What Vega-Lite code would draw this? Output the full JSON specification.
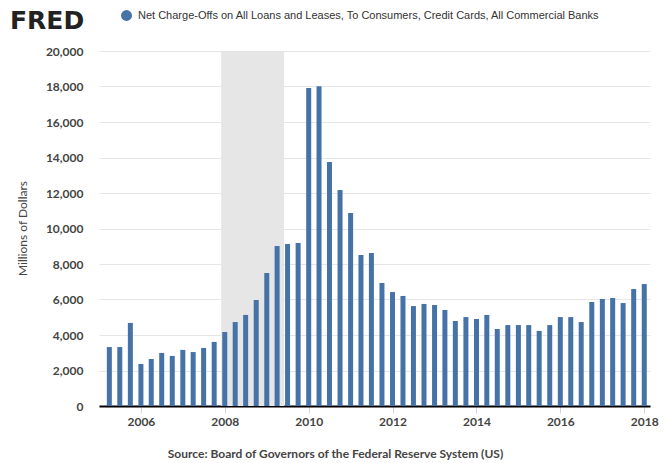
{
  "$schema": "https://vega.github.io/schema/vega-lite/v6.json",
  "width": 551,
  "height": 355,
  "autosize": {"type": "none"},
  "padding": {"left": 99, "top": 51, "right": 20, "bottom": 57},
  "background": "white",
  "title": {
    "text": "FRED",
    "anchor": "start",
    "frame": "group",
    "font": "DejaVu Sans",
    "fontSize": 25,
    "fontWeight": "bold",
    "color": "#222222",
    "dx": -89,
    "offset": 0,
    "dy": 44,
    "baseline": "alphabetic"
  },
  "config": {
    "view": {"stroke": null},
    "axis": {
      "labelFont": "Lato",
      "labelFontWeight": "bold",
      "labelFontSize": 12,
      "labelColor": "#444444",
      "titleFont": "Lato",
      "titleColor": "#444444"
    }
  },
  "datasets": {
    "recession": [{"start": "2007-12-01", "end": "2009-06-01"}],
    "series": [
      {"date": "2005-04-01", "value": 3320},
      {"date": "2005-07-01", "value": 3320},
      {"date": "2005-10-01", "value": 4680},
      {"date": "2006-01-01", "value": 2370},
      {"date": "2006-04-01", "value": 2650},
      {"date": "2006-07-01", "value": 2990},
      {"date": "2006-10-01", "value": 2820},
      {"date": "2007-01-01", "value": 3160},
      {"date": "2007-04-01", "value": 3040},
      {"date": "2007-07-01", "value": 3270},
      {"date": "2007-10-01", "value": 3610},
      {"date": "2008-01-01", "value": 4170},
      {"date": "2008-04-01", "value": 4730},
      {"date": "2008-07-01", "value": 5130},
      {"date": "2008-10-01", "value": 5970},
      {"date": "2009-01-01", "value": 7490},
      {"date": "2009-04-01", "value": 9010},
      {"date": "2009-07-01", "value": 9130},
      {"date": "2009-10-01", "value": 9180},
      {"date": "2010-01-01", "value": 17920},
      {"date": "2010-04-01", "value": 18010},
      {"date": "2010-07-01", "value": 13750},
      {"date": "2010-10-01", "value": 12170},
      {"date": "2011-01-01", "value": 10870},
      {"date": "2011-04-01", "value": 8510},
      {"date": "2011-07-01", "value": 8620},
      {"date": "2011-10-01", "value": 6930},
      {"date": "2012-01-01", "value": 6420},
      {"date": "2012-04-01", "value": 6200},
      {"date": "2012-07-01", "value": 5630},
      {"date": "2012-10-01", "value": 5750},
      {"date": "2013-01-01", "value": 5690},
      {"date": "2013-04-01", "value": 5410},
      {"date": "2013-07-01", "value": 4790},
      {"date": "2013-10-01", "value": 5010},
      {"date": "2014-01-01", "value": 4900},
      {"date": "2014-04-01", "value": 5130},
      {"date": "2014-07-01", "value": 4340},
      {"date": "2014-10-01", "value": 4560},
      {"date": "2015-01-01", "value": 4560},
      {"date": "2015-04-01", "value": 4560},
      {"date": "2015-07-01", "value": 4230},
      {"date": "2015-10-01", "value": 4560},
      {"date": "2016-01-01", "value": 5010},
      {"date": "2016-04-01", "value": 5010},
      {"date": "2016-07-01", "value": 4730},
      {"date": "2016-10-01", "value": 5860},
      {"date": "2017-01-01", "value": 6030},
      {"date": "2017-04-01", "value": 6090},
      {"date": "2017-07-01", "value": 5800},
      {"date": "2017-10-01", "value": 6590},
      {"date": "2018-01-01", "value": 6870}
    ]
  },
  "layer": [
    {
      "data": {"name": "recession"},
      "mark": {"type": "rect", "color": "#e6e6e6"},
      "encoding": {
        "x": {"field": "start", "type": "temporal", "scale": {"domain": ["2005-01-01", "2018-02-20"], "padding": 0}},
        "x2": {"field": "end"}
      }
    },
    {
      "data": {"name": "series"},
      "mark": {"type": "bar", "size": 5},
      "encoding": {
        "x": {
          "field": "date",
          "type": "temporal",
          "scale": {"domain": ["2005-01-01", "2018-02-20"], "padding": 0},
          "axis": {
            "values": [{"year": 2006}, {"year": 2008}, {"year": 2010}, {"year": 2012}, {"year": 2014}, {"year": 2016}, {"year": 2018}],
            "format": "%Y",
            "grid": false,
            "domainColor": "#000000",
            "domainWidth": 2,
            "tickColor": "#ccd6eb",
            "tickSize": 7,
            "tickWidth": 1,
            "labelPadding": 3,
            "labelFlush": false,
            "title": "Source: Board of Governors of the Federal Reserve System (US)",
            "titleFontSize": 12,
            "titleFontWeight": "bold",
            "titleX": 236,
            "titleY": 47,
            "titleBaseline": "middle",
            "titleAnchor": null
          }
        },
        "y": {
          "field": "value",
          "type": "quantitative",
          "scale": {"domain": [0, 20000], "nice": false},
          "axis": {
            "values": [0, 2000, 4000, 6000, 8000, 10000, 12000, 14000, 16000, 18000, 20000],
            "format": ",d",
            "domain": false,
            "ticks": false,
            "gridColor": "#e6e6e6",
            "gridWidth": 1,
            "labelPadding": 16,
            "title": "Millions of Dollars",
            "titleFontSize": 12,
            "titleFontWeight": "normal",
            "titleX": -77,
            "titleY": 177,
            "titleBaseline": "middle",
            "titleAnchor": null
          }
        },
        "color": {
          "datum": "Net Charge-Offs on All Loans and Leases, To Consumers, Credit Cards, All Commercial Banks",
          "scale": {"range": ["#4572a7"]},
          "legend": {
            "orient": "none",
            "legendX": 22,
            "legendY": -41,
            "title": null,
            "symbolType": "circle",
            "symbolSize": 120,
            "symbolStrokeWidth": 0,
            "labelFont": "Liberation Sans",
            "labelFontSize": 11,
            "labelColor": "#333333",
            "labelLimit": 700,
            "labelOffset": 6
          }
        }
      }
    }
  ]
}
